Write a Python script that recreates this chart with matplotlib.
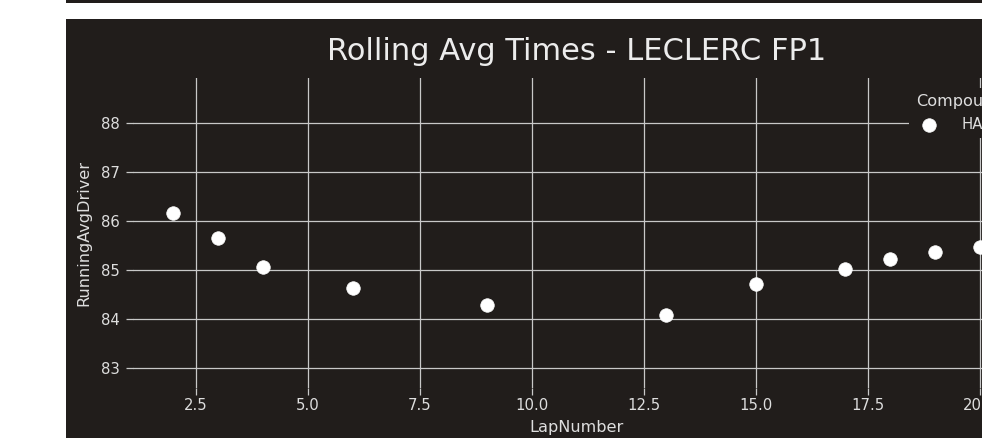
import matplotlib
matplotlib.use('Agg')
import matplotlib.pyplot as plt
from matplotlib.patches import Rectangle

# rolling average lap times, one stint on the hard tyre
laps = [2, 3, 4, 6, 9, 13, 15, 17, 18, 19, 20]
running_avg = [86.16, 85.65, 85.07, 84.63, 84.30, 84.08, 84.73, 85.03, 85.24, 85.37, 85.48]
compound = 'HARD'
driver = 'LECLERC'
session = 'FP1'

BG = '#211d1b'
GRID = '#c8c8c8'
TEXT = '#dedede'

W, H = 982, 438
fig = plt.figure(figsize=(W / 100, H / 100), dpi=100, facecolor='white')

# dark panel behind the chart, plus the bottom edge of the panel above
fig.patches.append(Rectangle((66 / W, 0), 1, (H - 19) / H, transform=fig.transFigure,
                             facecolor=BG, edgecolor='none', zorder=-1))
fig.patches.append(Rectangle((66 / W, 1 - 3 / H), 1, 3 / H, transform=fig.transFigure,
                             facecolor=BG, edgecolor='none', zorder=-1))

ax = fig.add_axes([133 / W, 1 - 388 / H, 887 / W, 310 / H])
ax.set_facecolor(BG)
for spine in ax.spines.values():
    spine.set_visible(False)
ax.grid(True, color=GRID, linewidth=0.9)
ax.set_axisbelow(True)

ax.scatter(laps, running_avg, s=95, color='white', edgecolor='white',
           linewidth=0.5, label=compound, zorder=3)
ax.margins(x=0.05)
ax.set_ylim(82.6, 88.92)

ax.tick_params(color=GRID, labelcolor=TEXT, labelsize=10.7, length=5, width=0.9)
ax.tick_params(axis='x', pad=2)
ax.tick_params(axis='y', pad=4.5)
ax.set_xlabel('LapNumber', fontsize=11.6, color=TEXT, labelpad=5)
ax.set_ylabel('RunningAvgDriver', fontsize=11.6, color=TEXT, labelpad=7)
ax.set_title(f'Rolling Avg Times - {driver} {session}', fontsize=22, color='#ececec', pad=13)

leg = ax.legend(title='Compound', loc='upper right', bbox_to_anchor=(1 - 2 / 887, 1 - 3 / 310),
                fontsize=10.7, title_fontsize=11.6, handletextpad=1.15,
                facecolor=BG, edgecolor='none', framealpha=1, labelcolor=TEXT)
leg.get_title().set_color(TEXT)

fig.savefig('out.png', dpi=100)
